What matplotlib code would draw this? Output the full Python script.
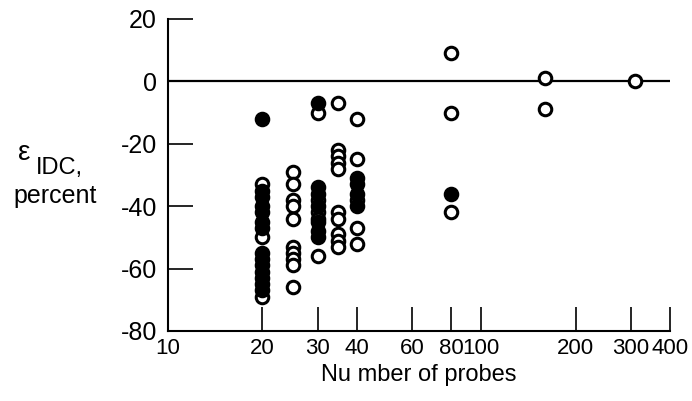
import matplotlib
matplotlib.use('Agg')
import matplotlib.pyplot as plt

plt.rcParams['font.family'] = ['Liberation Sans', 'DejaVu Sans']
plt.rcParams['axes.unicode_minus'] = False

# open circles
open_x = [20, 20, 20,
          25, 25, 25, 25, 25, 25, 25, 25, 25, 25,
          30, 30, 30, 30, 30,
          35, 35, 35, 35, 35, 35, 35, 35, 35, 35,
          40, 40, 40, 40, 40,
          80, 80, 80,
          160, 160,
          310]
open_y = [-33, -50, -69,
          -29, -33, -38, -40, -44, -53, -55, -57, -59, -66,
          -10, -38, -42, -44, -56,
          -7, -22, -24, -26, -28, -42, -44, -49, -51, -53,
          -12, -25, -38, -47, -52,
          9, -10, -42,
          1, -9,
          0]

# filled circles
filled_x = [20] * 14 + [30] * 7 + [40] * 4 + [80]
filled_y = [-12, -35, -37, -40, -42, -45, -47, -55, -57, -59, -61, -63, -65, -67,
            -7, -34, -36, -40, -45, -48, -50,
            -31, -33, -36, -40,
            -36]

xticks = [10, 20, 30, 40, 60, 80, 100, 200, 300, 400]
yticks = [-80, -60, -40, -20, 0, 20]

fig = plt.figure(figsize=(6.92, 4.01), dpi=100)
ax = fig.add_axes([168 / 692, 1 - 331 / 401, (670 - 168) / 692, (331 - 19) / 401])

ax.axhline(0, color='black', lw=1.6, zorder=1)
ax.plot(open_x, open_y, 'o', ms=9, mfc='white', mec='black', mew=2.2, ls='none', zorder=2)
ax.plot(filled_x, filled_y, 'o', ms=9, mfc='black', mec='black', mew=2.2, ls='none', zorder=3)

ax.set_xscale('log')
ax.set_xlim(10, 400)
ax.set_ylim(-80, 20)
ax.set_xticks(xticks)
ax.set_xticklabels([str(t) for t in xticks])
ax.xaxis.set_minor_locator(matplotlib.ticker.NullLocator())
ax.set_yticks(yticks)
ax.set_yticklabels([str(t) for t in yticks])

for s in ['top', 'right']:
    ax.spines[s].set_visible(False)
for s in ['left', 'bottom']:
    ax.spines[s].set_linewidth(1.5)

ax.tick_params(axis='y', direction='in', length=18, width=1.2, labelsize=18, pad=8)
ax.tick_params(axis='x', direction='in', length=17, width=1.2, labelsize=16, pad=5)
ax.set_xlabel('Nu mber of probes', fontsize=17, labelpad=4)

fig.text(18 / 692, 1 - 160 / 401, 'ε', fontsize=20, ha='left', va='baseline')
fig.text(36 / 692, 1 - 174 / 401, 'IDC,', fontsize=17, ha='left', va='baseline')
fig.text(13 / 692, 1 - 203 / 401, 'percent', fontsize=18, ha='left', va='baseline')

fig.savefig('out.png', dpi=100)
